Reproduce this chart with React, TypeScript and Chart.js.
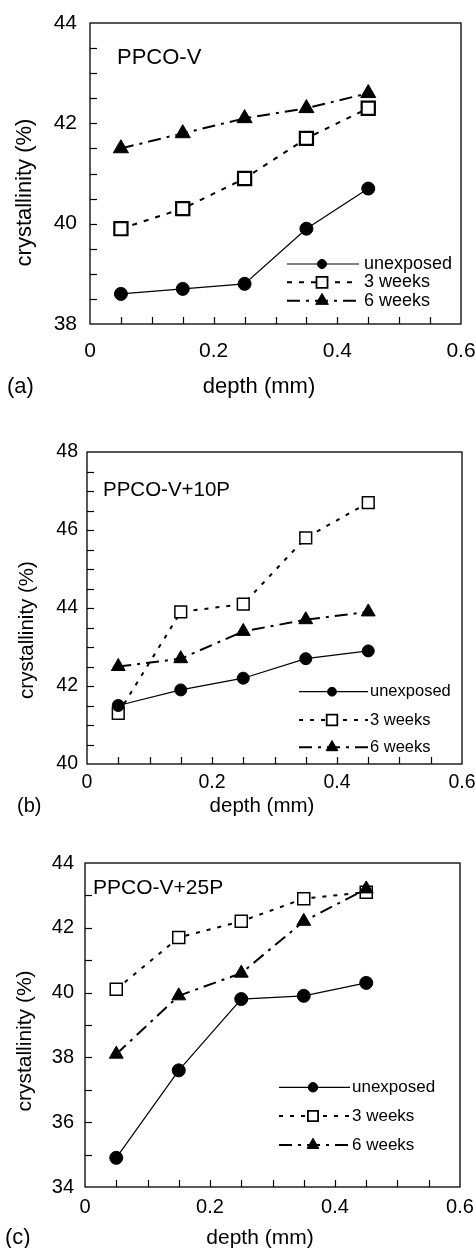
import React, { useEffect, useRef } from 'react';
import { Chart, registerables } from 'chart.js';

Chart.register(...registerables);

// ---------- data ----------
const depths = [0.05, 0.15, 0.25, 0.35, 0.45];
const seriesNames = ['unexposed', '3 weeks', '6 weeks'];

const aUnexposed = [38.6, 38.7, 38.8, 39.9, 40.7];
const a3Weeks = [39.9, 40.3, 40.9, 41.7, 42.3];
const a6Weeks = [41.5, 41.8, 42.1, 42.3, 42.6];

const bUnexposed = [41.5, 41.9, 42.2, 42.7, 42.9];
const b3Weeks = [41.3, 43.9, 44.1, 45.8, 46.7];
const b6Weeks = [42.5, 42.7, 43.4, 43.7, 43.9];

const cUnexposed = [34.9, 37.6, 39.8, 39.9, 40.3];
const c3Weeks = [40.1, 41.7, 42.2, 42.9, 43.1];
const c6Weeks = [38.1, 39.9, 40.6, 42.2, 43.2];

const xRange = [0, 0.6];
const xTickStep = 0.05;
const xLabelStep = 0.2;

const aYRange = [38, 44];
const bYRange = [40, 48];
const cYRange = [34, 44];
const aYTickStep = 0.5;
const bYTickStep = 0.5;
const cYTickStep = 1;
const yLabelStep = 2;

const xTitle = 'depth (mm)';
const yTitle = 'crystallinity (%)';

const FONT = '"Liberation Sans", Arial, Helvetica, sans-serif';

type Spec = {
  top: number;
  height: number;
  area: { left: number; right: number; top: number; bottom: number };
  yRange: number[];
  yStep: number;
  series: number[][];
  name: string;
  panelLabel: string;
  tickSize: number;
  xPad: number;
  yPad: number;
  textSize: number;
  nameAt: [number, number];
  xTitleAt: [number, number];
  yTitleAt: [number, number];
  labelAt: [number, number];
  labelSize: number;
  legendRows: number[];
  legendX: [number, number, number, number];
  legendSize: number;
  legendR: number[];
  circleR: number;
  rectR: number;
  rectBorder: number;
  triR: number;
  dash3: number[];
  dash6: number[];
};

const panels: Spec[] = [
  {
    top: 0, height: 410,
    area: { left: 90, right: 461, top: 23, bottom: 324 },
    yRange: aYRange, yStep: aYTickStep,
    series: [aUnexposed, a3Weeks, a6Weeks],
    name: 'PPCO-V', panelLabel: '(a)',
    tickSize: 21, xPad: 15, yPad: 13, textSize: 22,
    nameAt: [117, 58], xTitleAt: [259, 387], yTitleAt: [25, 192.5],
    labelAt: [7, 387], labelSize: 22,
    legendRows: [264, 282.3, 300.7], legendX: [287, 359, 322, 364], legendSize: 18,
    legendR: [4.5, 7.8, 7.3],
    circleR: 6.5, rectR: 9.3, rectBorder: 2.2, triR: 8.7,
    dash3: [5, 7], dash6: [13, 6, 3, 6],
  },
  {
    top: 410, height: 420,
    area: { left: 87, right: 462, top: 42, bottom: 354 },
    yRange: bYRange, yStep: bYTickStep,
    series: [bUnexposed, b3Weeks, b6Weeks],
    name: 'PPCO-V+10P', panelLabel: '(b)',
    tickSize: 19.5, xPad: 7, yPad: 9, textSize: 20.5,
    nameAt: [103, 80], xTitleAt: [262, 396], yTitleAt: [27, 220],
    labelAt: [17, 396], labelSize: 20,
    legendRows: [281.7, 310, 337.3], legendX: [299, 368, 332, 370], legendSize: 16.5,
    legendR: [4.4, 7.5, 6.8],
    circleR: 6, rectR: 8.3, rectBorder: 1.5, triR: 8,
    dash3: [4, 7], dash6: [13, 6, 3, 6],
  },
  {
    top: 830, height: 418,
    area: { left: 85, right: 460, top: 33, bottom: 357 },
    yRange: cYRange, yStep: cYTickStep,
    series: [cUnexposed, c3Weeks, c6Weeks],
    name: 'PPCO-V+25P', panelLabel: '(c)',
    tickSize: 20, xPad: 8, yPad: 11, textSize: 21,
    nameAt: [93, 58], xTitleAt: [260, 408], yTitleAt: [25, 211],
    labelAt: [5, 408], labelSize: 22,
    legendRows: [257.3, 286, 315], legendX: [279, 350, 313, 352], legendSize: 17,
    legendR: [4.7, 7.2, 6.8],
    circleR: 6.5, rectR: 8.5, rectBorder: 1.5, triR: 8,
    dash3: [4, 7], dash6: [13, 6, 3, 6],
  },
];

function isMultiple(v: number, step: number) {
  const r = v / step;
  return Math.abs(r - Math.round(r)) < 1e-6;
}

function drawMarker(ctx: CanvasRenderingContext2D, style: string, x: number, y: number, r: number, fill: string, lw: number) {
  ctx.beginPath();
  if (style === 'circle') {
    ctx.arc(x, y, r, 0, Math.PI * 2);
  } else if (style === 'rect') {
    const s = r * Math.SQRT1_2;
    ctx.rect(x - s, y - s, 2 * s, 2 * s);
  } else {
    let rad = 0;
    ctx.moveTo(x + Math.sin(rad) * r, y - Math.cos(rad) * r);
    rad += (2 * Math.PI) / 3;
    ctx.lineTo(x + Math.sin(rad) * r, y - Math.cos(rad) * r);
    rad += (2 * Math.PI) / 3;
    ctx.lineTo(x + Math.sin(rad) * r, y - Math.cos(rad) * r);
    ctx.closePath();
  }
  ctx.setLineDash([]);
  ctx.fillStyle = fill;
  ctx.fill();
  ctx.strokeStyle = '#000';
  ctx.lineWidth = lw;
  ctx.stroke();
}

function makeDecor(spec: Spec) {
  return {
    id: 'decor',
    beforeDatasetsDraw(chart: any) {
      const { ctx, chartArea: a, scales } = chart;
      ctx.save();
      ctx.strokeStyle = '#000';
      ctx.lineWidth = 1.3;
      ctx.setLineDash([]);
      ctx.strokeRect(a.left, a.top, a.right - a.left, a.bottom - a.top);
      ctx.lineWidth = 1.2;
      const xs = scales.x;
      xs.ticks.forEach((t: any) => {
        if (t.value <= xs.min + 1e-9 || t.value >= xs.max - 1e-9) return;
        const px = Math.round(xs.getPixelForValue(t.value)) + 0.5;
        ctx.beginPath();
        ctx.moveTo(px, a.bottom);
        ctx.lineTo(px, a.bottom - 7);
        ctx.stroke();
      });
      const ys = scales.y;
      ys.ticks.forEach((t: any) => {
        if (t.value <= ys.min + 1e-9 || t.value >= ys.max - 1e-9) return;
        const py = Math.round(ys.getPixelForValue(t.value)) + 0.5;
        ctx.beginPath();
        ctx.moveTo(a.left, py);
        ctx.lineTo(a.left + 7, py);
        ctx.stroke();
      });
      ctx.restore();
    },
    afterDraw(chart: any) {
      const { ctx } = chart;
      ctx.save();
      ctx.fillStyle = '#000';
      ctx.textBaseline = 'middle';
      ctx.font = `${spec.textSize}px ${FONT}`;
      ctx.textAlign = 'left';
      ctx.fillText(spec.name, spec.nameAt[0], spec.nameAt[1]);
      ctx.textAlign = 'center';
      ctx.fillText(xTitle, spec.xTitleAt[0], spec.xTitleAt[1]);
      ctx.save();
      ctx.translate(spec.yTitleAt[0], spec.yTitleAt[1]);
      ctx.rotate(-Math.PI / 2);
      ctx.fillText(yTitle, 0, 0);
      ctx.restore();
      ctx.font = `${spec.labelSize}px ${FONT}`;
      ctx.textAlign = 'left';
      ctx.fillText(spec.panelLabel, spec.labelAt[0], spec.labelAt[1]);
      const [x1, x2, xm, xt] = spec.legendX;
      chart.data.datasets.forEach((ds: any, i: number) => {
        const y = spec.legendRows[i];
        ctx.beginPath();
        ctx.setLineDash(ds.borderDash || []);
        ctx.lineWidth = ds.borderWidth;
        ctx.strokeStyle = '#000';
        ctx.moveTo(x1, y);
        ctx.lineTo(x2, y);
        ctx.stroke();
        drawMarker(ctx, ds.pointStyle, xm, y, spec.legendR[i], ds.pointBackgroundColor, i === 1 ? 1.8 : 1);
        ctx.font = `${spec.legendSize}px ${FONT}`;
        ctx.textAlign = 'left';
        ctx.fillStyle = '#000';
        ctx.fillText(ds.label, xt, y);
      });
      ctx.restore();
    },
  };
}

function Panel({ spec }: { spec: Spec }) {
  const ref = useRef<HTMLCanvasElement | null>(null);
  useEffect(() => {
    if (!ref.current) return;
    const toPts = (vals: number[]) => vals.map((v, i) => ({ x: depths[i], y: v }));
    const [u, w3, w6] = spec.series;
    const chart = new Chart(ref.current, {
      type: 'line',
      data: {
        datasets: [
          {
            label: seriesNames[0],
            data: toPts(u),
            borderColor: '#000',
            borderWidth: 1.2,
            borderDash: [],
            pointStyle: 'circle',
            pointRadius: spec.circleR,
            pointBackgroundColor: '#000',
            pointBorderColor: '#000',
            pointBorderWidth: 1,
            order: 1,
          },
          {
            label: seriesNames[1],
            data: toPts(w3),
            borderColor: '#000',
            borderWidth: 2,
            borderDash: spec.dash3,
            pointStyle: 'rect',
            pointRadius: spec.rectR,
            pointBackgroundColor: '#fff',
            pointBorderColor: '#000',
            pointBorderWidth: spec.rectBorder,
            order: 2,
          },
          {
            label: seriesNames[2],
            data: toPts(w6),
            borderColor: '#000',
            borderWidth: 2,
            borderDash: spec.dash6,
            pointStyle: 'triangle',
            pointRadius: spec.triR,
            pointBackgroundColor: '#000',
            pointBorderColor: '#000',
            pointBorderWidth: 1,
            order: 0,
          },
        ] as any,
      },
      options: {
        animation: false,
        responsive: false,
        devicePixelRatio: 1,
        events: [],
        layout: {
          padding: { left: 0, top: spec.area.top, right: 476 - spec.area.right, bottom: 0 },
        },
        plugins: {
          legend: { display: false },
          tooltip: { enabled: false },
          title: { display: false },
        },
        elements: { line: { tension: 0 } },
        scales: {
          x: {
            type: 'linear',
            min: xRange[0],
            max: xRange[1],
            grid: { display: false, drawTicks: false },
            border: { display: false },
            ticks: {
              stepSize: xTickStep,
              autoSkip: false,
              maxRotation: 0,
              minRotation: 0,
              padding: spec.xPad,
              color: '#000',
              font: { family: FONT, size: spec.tickSize },
              callback: (v: any) => (isMultiple(Number(v), xLabelStep) ? String(Math.round(Number(v) * 10) / 10) : ''),
            },
            afterFit: (scale: any) => {
              scale.height = spec.height - spec.area.bottom;
              scale.paddingLeft = 0;
              scale.paddingRight = 0;
              scale.paddingTop = 0;
              scale.paddingBottom = 0;
            },
          },
          y: {
            type: 'linear',
            min: spec.yRange[0],
            max: spec.yRange[1],
            grid: { display: false, drawTicks: false },
            border: { display: false },
            ticks: {
              stepSize: spec.yStep,
              autoSkip: false,
              padding: spec.yPad,
              color: '#000',
              font: { family: FONT, size: spec.tickSize },
              callback: (v: any) => (isMultiple(Number(v), yLabelStep) ? String(Math.round(Number(v))) : ''),
            },
            afterFit: (scale: any) => {
              scale.width = spec.area.left;
              scale.paddingLeft = 0;
              scale.paddingRight = 0;
              scale.paddingTop = 0;
              scale.paddingBottom = 0;
            },
          },
        },
      },
      plugins: [makeDecor(spec)],
    });
    return () => chart.destroy();
  }, [spec]);
  return (
    <canvas
      ref={ref}
      width={476}
      height={spec.height}
      style={{ position: 'absolute', left: 0, top: spec.top, width: 476, height: spec.height, display: 'block' }}
    />
  );
}

export default function App() {
  return (
    <div style={{ position: 'absolute', left: 0, top: 0, width: 476, height: 1248, background: '#fff', overflow: 'hidden' }}>
      {panels.map((p) => (
        <Panel key={p.panelLabel} spec={p} />
      ))}
    </div>
  );
}
